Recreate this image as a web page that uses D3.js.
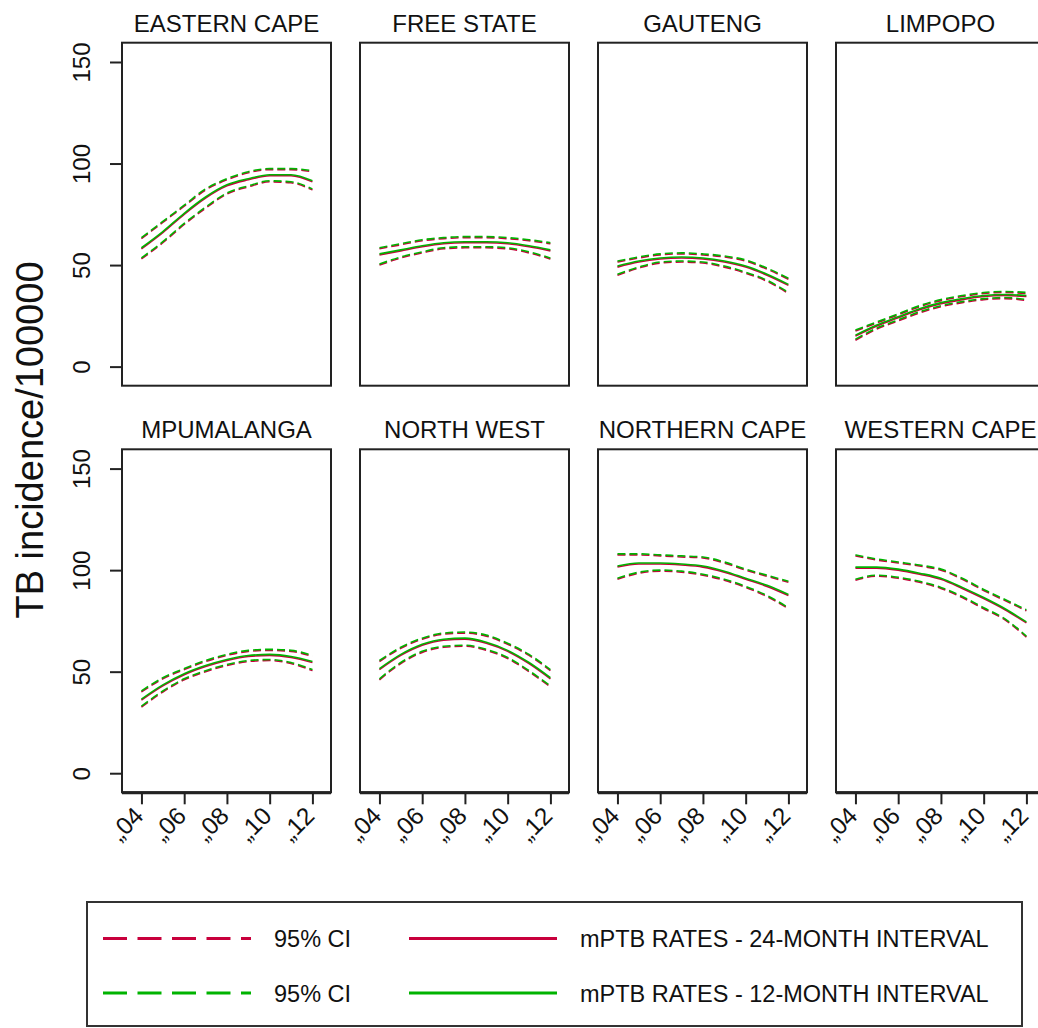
<!DOCTYPE html>
<html>
<head>
<meta charset="utf-8">
<script src="https://cdn.jsdelivr.net/npm/d3@7"></script>
<style>
body{margin:0;background:#fff;}
svg{display:block;font-family:"Liberation Sans",Arial,sans-serif;}
</style>
</head>
<body>
<div id="chart"></div>
<script>
// data
var provinces = ['EASTERN CAPE', 'FREE STATE', 'GAUTENG', 'LIMPOPO',
    'MPUMALANGA', 'NORTH WEST', 'NORTHERN CAPE', 'WESTERN CAPE'];
var years = [2004, 2005, 2006, 2007, 2008, 2009, 2010, 2011, 2012];
var xTicks = [2004, 2006, 2008, 2010, 2012];
var yTicks = [0, 50, 100, 150];

// 24-month interval
var rate24 = [
    [58, 66, 75, 83, 89, 92, 94, 94, 91],
    [55, 57, 59, 60.5, 61, 61, 60.5, 59, 57],
    [49, 51.5, 53, 53.5, 53, 51.5, 49, 45, 40],
    [15, 20, 24, 28, 31, 33, 34.5, 35, 34.5],
    [36, 43, 48.5, 52.5, 55.5, 57.5, 58, 57, 54.5],
    [51, 58, 63, 65.5, 66, 64, 60, 54, 46.5],
    [101.5, 103, 103, 102.5, 101.5, 99, 95.5, 92, 87.5],
    [101, 101, 100, 98, 95.5, 91, 86, 80.5, 74]
];
var hi24 = [
    [63, 71, 79, 87, 92, 95.5, 97, 97, 96],
    [58, 60, 62, 63, 63.5, 63.5, 63, 62, 60.5],
    [51.5, 53.5, 55, 55.5, 55, 54, 52, 48, 43],
    [17.5, 21.5, 25.5, 29.5, 32.5, 34.5, 36, 36.5, 36],
    [40, 46.5, 51, 55, 58, 60, 60.5, 60, 57.5],
    [55, 61.5, 66, 68.5, 69, 67.5, 63.5, 58, 50.5],
    [107.5, 107.5, 107, 106.5, 106, 103.5, 100, 97, 94],
    [107, 105, 103.5, 102, 100, 95.5, 90, 85, 80]
];
var lo24 = [
    [53, 61, 70, 78, 85, 88.5, 91, 90.5, 87],
    [50, 53.5, 56, 58, 58.5, 58.5, 58, 56, 53],
    [45, 48.5, 51, 51.5, 51, 49, 46, 42, 36],
    [13, 18.5, 22.5, 26.5, 29.5, 31.5, 33, 33.5, 32.5],
    [32.5, 40, 46, 50, 53, 55, 55.5, 54, 50.5],
    [46, 54, 59.5, 62, 62.5, 60.5, 56.5, 50, 42.5],
    [95.5, 98.5, 99.5, 99, 97.5, 95, 91.5, 87, 81],
    [95, 97, 96, 94, 91, 86.5, 81, 75.5, 67]
];

// 12-month interval
var rate12 = [
    [58.5, 66.5, 75.5, 83.5, 89.5, 92.5, 94.5, 94.5, 91.5],
    [55.5, 57.5, 59.5, 61, 61.5, 61.5, 61, 59.5, 57.5],
    [49.5, 52, 53.5, 54, 53.5, 52, 49.5, 45.5, 40.5],
    [15.5, 20.5, 24.5, 28.5, 31.5, 33.5, 35, 35.5, 35],
    [36.5, 43.5, 49, 53, 56, 58, 58.5, 57.5, 55],
    [51.5, 58.5, 63.5, 66, 66.5, 64.5, 60.5, 54.5, 47],
    [102, 103.5, 103.5, 103, 102, 99.5, 96, 92.5, 88],
    [101.5, 101.5, 100.5, 98.5, 96, 91.5, 86.5, 81, 74.5]
];
var hi12 = [
    [63.5, 71.5, 79.5, 87.5, 92.5, 96, 97.5, 97.5, 96.5],
    [58.5, 60.5, 62.5, 63.5, 64, 64, 63.5, 62.5, 61],
    [52, 54, 55.5, 56, 55.5, 54.5, 52.5, 48.5, 43.5],
    [18, 22, 26, 30, 33, 35, 36.5, 37, 36.5],
    [40.5, 47, 51.5, 55.5, 58.5, 60.5, 61, 60.5, 58],
    [55.5, 62, 66.5, 69, 69.5, 68, 64, 58.5, 51],
    [108, 108, 107.5, 107, 106.5, 104, 100.5, 97.5, 94.5],
    [107.5, 105.5, 104, 102.5, 100.5, 96, 90.5, 85.5, 80.5]
];
var lo12 = [
    [53.5, 61.5, 70.5, 78.5, 85.5, 89, 91.5, 91, 87.5],
    [50.5, 54, 56.5, 58.5, 59, 59, 58.5, 56.5, 53.5],
    [45.5, 49, 51.5, 52, 51.5, 49.5, 46.5, 42.5, 36.5],
    [13.5, 19, 23, 27, 30, 32, 33.5, 34, 33],
    [33, 40.5, 46.5, 50.5, 53.5, 55.5, 56, 54.5, 51],
    [46.5, 54.5, 60, 62.5, 63, 61, 57, 50.5, 43],
    [96, 99, 100, 99.5, 98, 95.5, 92, 87.5, 81.5],
    [95.5, 97.5, 96.5, 94.5, 91.5, 87, 81.5, 76, 67.5]
];

var legendLabels = ['95% CI', 'mPTB RATES - 24-MONTH INTERVAL', '95% CI', 'mPTB RATES - 12-MONTH INTERVAL'];

var RED = '#c8003c';
var GREEN = '#00b300';
var INK = '#111';

var width = 1038, height = 1028;
var panelW = 209, panelH = 343;
var colLeft = [122, 360, 598, 836];
var rowTop = [42.7, 449.3];

var svg = d3.select('#chart').append('svg')
    .attr('width', width)
    .attr('height', height);

var x = d3.scaleLinear().domain([2003.09, 2012.87]).range([0, panelW]);
var y = d3.scaleLinear().domain([-9.4, 159.5]).range([panelH, 0]);

var line = d3.line()
    .x(function(d, i){ return x(years[i]); })
    .y(function(d){ return y(d); })
    .curve(d3.curveMonotoneX);

var series = [
    {data:lo24, color:RED, dash:true},
    {data:hi24, color:RED, dash:true},
    {data:rate24, color:RED, dash:false},
    {data:lo12, color:GREEN, dash:true},
    {data:hi12, color:GREEN, dash:true},
    {data:rate12, color:GREEN, dash:false}
];

provinces.forEach(function(name, p){
    var row = Math.floor(p/4), col = p%4;
    var g = svg.append('g')
        .attr('transform', 'translate(' + colLeft[col] + ',' + rowTop[row] + ')');

    //曲线
    series.forEach(function(s){
        g.append('path')
            .attr('d', line(s.data[p]))
            .attr('fill', 'none')
            .attr('stroke', s.color)
            .attr('stroke-width', 1.6)
            .attr('stroke-dasharray', s.dash ? '8,4' : null);
    });

    //边框
    g.append('rect')
        .attr('width', panelW)
        .attr('height', panelH)
        .attr('fill', 'none')
        .attr('stroke', '#222')
        .attr('stroke-width', 2);

    g.append('text')
        .attr('x', panelW/2)
        .attr('y', -11)
        .attr('text-anchor', 'middle')
        .attr('font-size', 24)
        .attr('fill', INK)
        .text(name);

    //axis-y
    if(col === 0){
        var $axisY = g.append('g')
            .call(d3.axisLeft(y).tickValues(yTicks).tickSize(12).tickSizeOuter(0));
        $axisY.select('.domain').remove();
        $axisY.append('line')
            .attr('y1', y(yTicks[0]))
            .attr('y2', y(yTicks[yTicks.length-1]))
            .attr('stroke', '#222')
            .attr('stroke-width', 2);
        $axisY.selectAll('.tick line').attr('stroke', '#222').attr('stroke-width', 2);
        $axisY.selectAll('.tick text')
            .attr('transform', 'rotate(-90)')
            .attr('x', 0)
            .attr('y', -32)
            .attr('dy', 0)
            .attr('text-anchor', 'middle')
            .attr('font-size', 24)
            .attr('font-family', '"Liberation Sans",Arial,sans-serif')
            .attr('fill', INK);
    }

    //axis-x
    if(row === 1){
        var $axisX = g.append('g')
            .attr('transform', 'translate(0,' + panelH + ')')
            .call(d3.axisBottom(x).tickValues(xTicks).tickSize(12).tickSizeOuter(0)
                .tickFormat(function(d){ return '\u201e' + String(d).slice(2); }));
        $axisX.select('.domain')
            .attr('stroke', '#222')
            .attr('stroke-width', 3)
            .attr('d', 'M0,0.5H' + panelW);
        $axisX.selectAll('.tick line').attr('stroke', '#222').attr('stroke-width', 2);
        $axisX.selectAll('.tick text')
            .attr('x', 0)
            .attr('y', 0)
            .attr('dy', 0)
            .attr('transform', 'translate(3,25) rotate(-45)')
            .attr('text-anchor', 'end')
            .attr('font-size', 24.5)
            .attr('font-family', '"Liberation Sans",Arial,sans-serif')
            .attr('fill', INK);
    }
});

svg.append('text')
    .attr('transform', 'translate(43,440) rotate(-90)')
    .attr('text-anchor', 'middle')
    .attr('font-size', 38)
    .attr('fill', INK)
    .text('TB incidence/100000');

//图例
var $legend = svg.append('g');
$legend.append('rect')
    .attr('x', 87).attr('y', 902)
    .attr('width', 935).attr('height', 124)
    .attr('fill', 'none')
    .attr('stroke', '#333')
    .attr('stroke-width', 2);

var legendRows = [938.5, 993];
var legendColors = [RED, GREEN];
legendRows.forEach(function(ly, i){
    $legend.append('line')
        .attr('x1', 103).attr('x2', 251)
        .attr('y1', ly).attr('y2', ly)
        .attr('stroke', legendColors[i])
        .attr('stroke-width', 3)
        .attr('stroke-dasharray', '24,10.5');
    $legend.append('text')
        .attr('x', 274).attr('y', ly + 8.5)
        .attr('font-size', 23.5)
        .attr('fill', INK)
        .text(legendLabels[i*2]);
    $legend.append('line')
        .attr('x1', 409).attr('x2', 557)
        .attr('y1', ly).attr('y2', ly)
        .attr('stroke', legendColors[i])
        .attr('stroke-width', 3);
    $legend.append('text')
        .attr('x', 580).attr('y', ly + 8.5)
        .attr('font-size', 23.5)
        .attr('fill', INK)
        .text(legendLabels[i*2+1]);
});
</script>
</body>
</html>
